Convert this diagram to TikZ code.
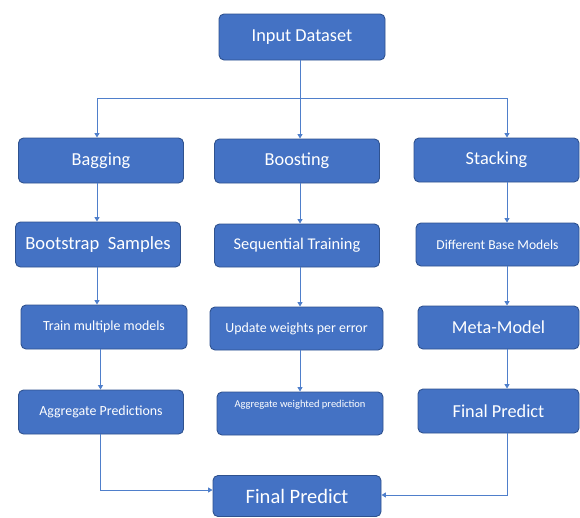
\documentclass[tikz,border=0pt]{standalone}
\usepackage{fontspec}
\setmainfont{Carlito}
\usetikzlibrary{arrows.meta}
\definecolor{boxfill}{HTML}{4472C4}
\definecolor{boxedge}{HTML}{2F528F}
\definecolor{linkblue}{HTML}{4F7FCB}
\tikzset{
  stepbox/.style={draw=boxedge, line width=0.9pt, fill=boxfill, rounded corners=5pt,
    text=white, align=center, inner sep=2pt},
  link/.style={draw=linkblue, line width=1pt, -{Triangle[width=5pt,length=4.5pt]}},
  plain/.style={draw=linkblue, line width=1pt},
  fbig/.style={font=\fontsize{18.3}{20}\selectfont},
  fmid/.style={font=\fontsize{16.4}{18}\selectfont},
  fsmall/.style={font=\fontsize{13.9}{16}\selectfont},
  ftiny/.style={font=\fontsize{10.5}{12}\selectfont},
}
\newcommand{\bx}[6]{% name, cx, cy, width, height, style+text
  \node[stepbox, minimum width=#4pt, minimum height=#5pt, #6] (#1) at (#2,#3)}
\begin{document}
\begin{tikzpicture}[x=1pt, y=-1pt]
  \fill[white] (0,0) rectangle (580,517);
  \useasboundingbox (0,0) rectangle (580,517);

  % column guide coordinates for the vertical connectors
  \coordinate (colL) at (97,0);
  \coordinate (colLb) at (100.5,0);
  \coordinate (colM) at (300,0);
  \coordinate (colR) at (507,0);
  \coordinate (split) at (300,98);

  % top
  \bx{inp}{302}{37}{166}{46}{fbig}{Input Dataset};

  % first row
  \bx{bag}{101}{160.5}{165}{45}{fbig}{Bagging};
  \bx{boost}{297}{161}{165}{44}{fbig}{Boosting};
  \bx{stack}{496.5}{160}{165}{44}{fbig}{Stacking};

  % second row
  \bx{boot}{98}{244.5}{165}{45}{font=\fontsize{18.6}{20}\selectfont}{Bootstrap~~Samples};
  \bx{seq}{297}{245.5}{165}{43}{fmid}{Sequential Training};
  \bx{diff}{497.5}{244.5}{163}{43}{font=\fontsize{13.6}{16}\selectfont}{Different Base Models};

  % third row
  \bx{train}{104}{327}{166}{44}{fsmall}{Train multiple models};
  \bx{upd}{296.5}{328.5}{173}{43}{fsmall}{Update weights per error};
  \bx{meta}{498.5}{327.5}{161}{43}{fbig}{Meta-Model};

  % fourth row
  \bx{aggp}{101}{412}{165}{44}{fsmall}{Aggregate Predictions};
  \bx{aggw}{300}{413.5}{166}{43}{label={[anchor=north, text=white, ftiny, yshift=-5pt]north:Aggregate weighted prediction}}{};
  \bx{finr}{498.5}{411}{161}{44}{fbig}{Final Predict};

  % bottom
  \bx{fin}{297}{496}{168}{41}{font=\fontsize{20.5}{22}\selectfont}{Final Predict};

  % fan-out from the input
  \draw[link] (inp.south -| colM) -- (boost.north -| colM);
  \draw[link] (split) -| (bag.north -| colL);
  \draw[link] (split) -| (stack.north -| colR);

  % bagging column
  \draw[link] (bag.south -| colL) -- (boot.north -| colL);
  \draw[link] (boot.south -| colL) -- (train.north -| colL);
  \draw[link] (train.south -| colLb) -- (aggp.north -| colLb);

  % boosting column
  \draw[link] (boost.south -| colM) -- (seq.north -| colM);
  \draw[link] (seq.south -| colM) -- (upd.north -| colM);
  \draw[link] (upd.south -| colM) -- (aggw.north -| colM);

  % stacking column
  \draw[link] (stack.south -| colR) -- (diff.north -| colR);
  \draw[link] (diff.south -| colR) -- (meta.north -| colR);
  \draw[link] (meta.south -| colR) -- (finr.north -| colR);

  % merge into the final prediction
  \draw[link] (aggp.south -| colLb) |- ([yshift=6pt]fin.west);
  \draw[link] (finr.south -| colR) |- ([yshift=1pt]fin.east);
\end{tikzpicture}
\end{document}
